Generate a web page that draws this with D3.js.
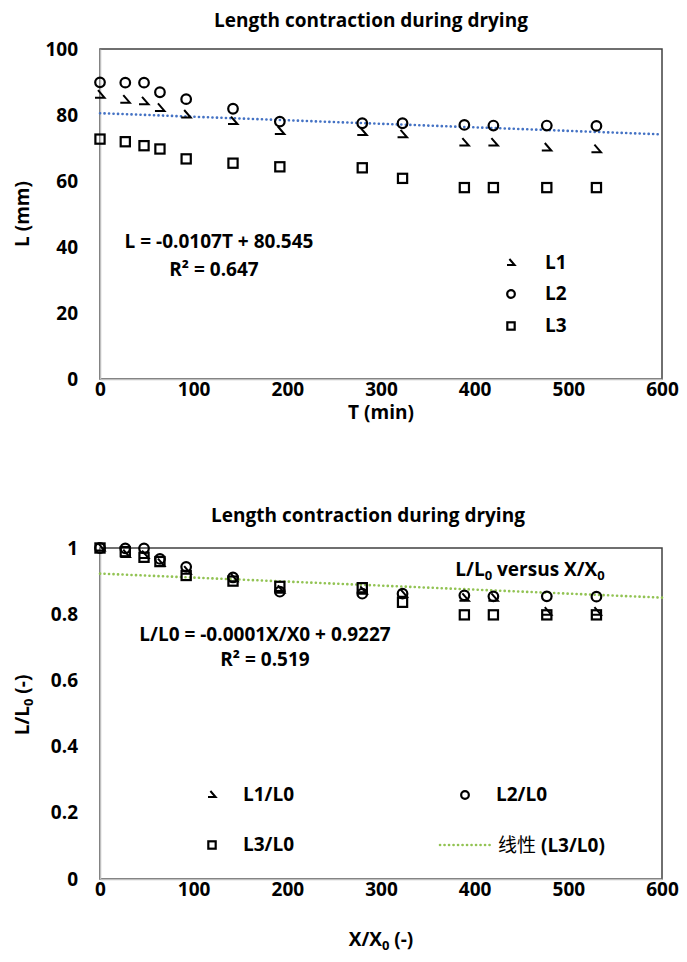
<!DOCTYPE html>
<html>
<head>
<meta charset="utf-8">
<script src="https://cdn.jsdelivr.net/npm/d3@7"></script>
<style>
body { margin: 0; background: #fff; }
text { font-family: "Open Sans", sans-serif; font-weight: bold; fill: #000; }
</style>
</head>
<body>
<svg id="chart" width="687" height="962"></svg>
<script>
// drying time (min), same positions for both panels
var times = [0, 27, 47, 64, 92, 142, 192, 280, 323, 389, 420, 477, 530];

// top panel: lengths in mm
var l1 = [86, 84.5, 84, 82, 80, 78, 75, 74.7, 74, 71.5, 71.5, 70, 69.5];
var l2 = [89.9, 89.8, 89.8, 86.9, 84.8, 81.9, 78, 77.5, 77.5, 77, 76.8, 76.8, 76.7];
var l3 = [72.7, 71.9, 70.7, 69.7, 66.7, 65.4, 64.3, 64, 60.8, 58, 58, 58, 58];

// bottom panel: relative lengths
var r1 = [1, 0.98, 0.977, 0.953, 0.93, 0.907, 0.872, 0.869, 0.86, 0.848, 0.848, 0.806, 0.806];
var r2 = [1, 0.999, 0.999, 0.967, 0.943, 0.911, 0.868, 0.862, 0.862, 0.857, 0.854, 0.854, 0.853];
var r3 = [1, 0.989, 0.972, 0.959, 0.917, 0.9, 0.884, 0.88, 0.836, 0.798, 0.798, 0.798, 0.798];

var xTicks = [0, 100, 200, 300, 400, 500, 600];
var yTicksTop = [0, 20, 40, 60, 80, 100];
var yTicksBottom = [0, 0.2, 0.4, 0.6, 0.8, 1];

// trendlines [slope, intercept]
var trendTop = [-0.0107, 80.545];
var trendBottom = [-0.000121, 0.9227];

var svg = d3.select("#chart");

function marker(sel, type, s) {
	if (type == "tick") {
		sel.append("path")
			.attr("d", "M" + (-2*s) + "," + (-5*s) + " L" + (4.5*s) + "," + (2.5*s) + " L" + (-5*s) + "," + (2.5*s))
			.attr("fill", "none").attr("stroke", "#000").attr("stroke-width", 2);
	} else if (type == "circle") {
		sel.append("circle").attr("r", 4.8*s)
			.attr("fill", "none").attr("stroke", "#000").attr("stroke-width", 2.2);
	} else {
		sel.append("rect").attr("x", -4.6*s).attr("y", -4.6*s).attr("width", 9.2*s).attr("height", 9.2*s)
			.attr("fill", "none").attr("stroke", "#000").attr("stroke-width", 2.2);
	}
}

function drawPanel(cfg) {
	var g = svg.append("g");
	var x = d3.scaleLinear().domain([0, 600]).range([100, 662]);
	var y = d3.scaleLinear().domain(cfg.yDomain).range([cfg.bottom, cfg.top]);

	g.append("rect")
		.attr("x", x(0)).attr("y", y(cfg.yDomain[1]))
		.attr("width", x(600) - x(0)).attr("height", y(cfg.yDomain[0]) - y(cfg.yDomain[1]))
		.attr("fill", "none").attr("stroke", "#404040").attr("stroke-width", 1.5);

	var xa = g.append("g")
		.attr("transform", "translate(0," + y(cfg.yDomain[0]) + ")")
		.call(d3.axisBottom(x).tickValues(xTicks).tickSize(0).tickPadding(cfg.xPad));
	var ya = g.append("g")
		.attr("transform", "translate(" + x(0) + ",0)")
		.call(d3.axisLeft(y).tickValues(cfg.yTicks).tickSize(0).tickPadding(22).tickFormat(d3.format("~g")));
	[xa, ya].forEach(function(a) {
		a.select(".domain").attr("stroke", "#bfbfbf").attr("stroke-width", 1.5);
		a.selectAll("text").style("font-family", "'Open Sans', sans-serif")
			.style("font-weight", "bold").attr("font-size", 19).attr("fill", "#000");
	});

	// trendline
	var tr = cfg.trend;
	g.append("line")
		.attr("x1", x(0)).attr("y1", y(tr[1]))
		.attr("x2", x(600)).attr("y2", y(tr[0]*600 + tr[1]))
		.attr("stroke", cfg.trendColor).attr("stroke-width", 2.6)
		.attr("stroke-dasharray", "0.1 4.4").attr("stroke-linecap", "round");

	cfg.series.forEach(function(s) {
		g.selectAll(null)
			.data(s.values)
			.enter()
			.append("g")
			.attr("transform", function(d, i) { return "translate(" + x(times[i]) + "," + y(d) + ")"; })
			.each(function() { marker(d3.select(this), s.type, 1); });
	});

	g.append("text").attr("x", cfg.titleX).attr("y", cfg.titleY)
		.attr("text-anchor", "middle").attr("font-size", 19).text("Length contraction during drying");

	return {x: x, y: y, g: g};
}

// ---- top panel
var topPanel = drawPanel({
	yDomain: [0, 100], top: 49, bottom: 379, yTicks: yTicksTop, xPad: 3,
	trend: trendTop, trendColor: "#4472c4",
	titleX: 371, titleY: 27,
	series: [{values: l1, type: "tick"}, {values: l2, type: "circle"}, {values: l3, type: "square"}]
});

topPanel.g.append("text").attr("x", 381).attr("y", 419).attr("text-anchor", "middle").attr("font-size", 19).text("T (min)");
topPanel.g.append("text").attr("transform", "translate(29,214) rotate(-90)").attr("text-anchor", "middle")
	.attr("font-size", 19).text("L (mm)");
topPanel.g.append("text").attr("x", 219).attr("y", 248).attr("text-anchor", "middle").attr("font-size", 19)
	.text("L = -0.0107T + 80.545");
topPanel.g.append("text").attr("x", 214).attr("y", 276).attr("text-anchor", "middle").attr("font-size", 19)
	.text("R\u00b2 = 0.647");

var legTop = [{label: "L1", type: "tick", y: 263}, {label: "L2", type: "circle", y: 294}, {label: "L3", type: "square", y: 326}];
legTop.forEach(function(d) {
	var lg = topPanel.g.append("g").attr("transform", "translate(511," + d.y + ")");
	marker(lg, d.type, 0.8);
	lg.append("text").attr("x", 34).attr("y", 6).attr("font-size", 19).text(d.label);
});

// ---- bottom panel
var botPanel = drawPanel({
	yDomain: [0, 1], top: 548, bottom: 879, yTicks: yTicksBottom, xPad: 3,
	trend: trendBottom, trendColor: "#92c353",
	titleX: 368, titleY: 522,
	series: [{values: r1, type: "tick"}, {values: r2, type: "circle"}, {values: r3, type: "square"}]
});

var xl = botPanel.g.append("text").attr("x", 381).attr("y", 946).attr("text-anchor", "middle").attr("font-size", 19);
xl.append("tspan").text("X/X");
xl.append("tspan").attr("font-size", 13).attr("dy", 4).text("0");
xl.append("tspan").attr("dy", -4).text(" (-)");

var yl = botPanel.g.append("text").attr("transform", "translate(29,705) rotate(-90)").attr("text-anchor", "middle").attr("font-size", 19);
yl.append("tspan").text("L/L");
yl.append("tspan").attr("font-size", 13).attr("dy", 4).text("0");
yl.append("tspan").attr("dy", -4).text(" (-)");

var vs = botPanel.g.append("text").attr("x", 530).attr("y", 576).attr("text-anchor", "middle").attr("font-size", 19);
vs.append("tspan").text("L/L");
vs.append("tspan").attr("font-size", 13).attr("dy", 4).text("0");
vs.append("tspan").attr("dy", -4).text(" versus X/X");
vs.append("tspan").attr("font-size", 13).attr("dy", 4).text("0");

botPanel.g.append("text").attr("x", 265).attr("y", 641).attr("text-anchor", "middle").attr("font-size", 19)
	.text("L/L0 = -0.0001X/X0 + 0.9227");
botPanel.g.append("text").attr("x", 265).attr("y", 666).attr("text-anchor", "middle").attr("font-size", 19)
	.text("R\u00b2 = 0.519");

var legBot = [
	{label: "L1/L0", type: "tick", x: 212, y: 795},
	{label: "L2/L0", type: "circle", x: 465, y: 795},
	{label: "L3/L0", type: "square", x: 212, y: 845}
];
legBot.forEach(function(d) {
	var lg = botPanel.g.append("g").attr("transform", "translate(" + d.x + "," + d.y + ")");
	marker(lg, d.type, 0.8);
	lg.append("text").attr("x", 31).attr("y", 6).attr("font-size", 19).text(d.label);
});
var tl = botPanel.g.append("g").attr("transform", "translate(440,845)");
tl.append("line").attr("x1", 0).attr("x2", 52).attr("y1", 0).attr("y2", 0)
	.attr("stroke", "#92c353").attr("stroke-width", 2.6)
	.attr("stroke-dasharray", "0.1 4.4").attr("stroke-linecap", "round");
var tt = tl.append("text").attr("x", 58).attr("y", 7).attr("font-size", 19);
tt.append("tspan").style("font-family", "'Noto Sans CJK SC', sans-serif").style("font-weight", "normal").text("线性");
tt.append("tspan").text(" (L3/L0)");
</script>
</body>
</html>
